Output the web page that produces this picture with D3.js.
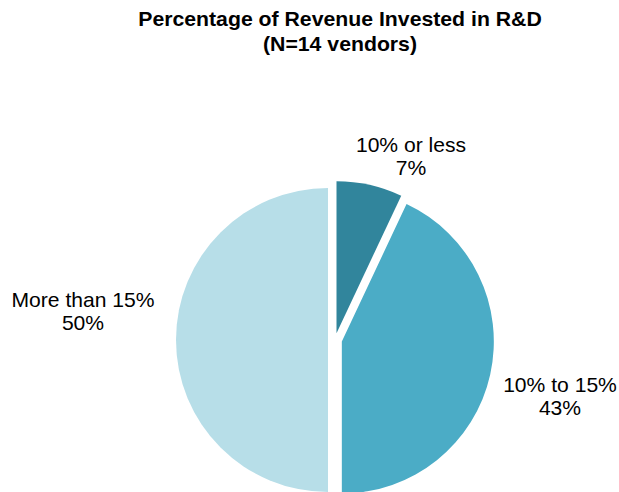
<!DOCTYPE html>
<html>
<head>
<meta charset="utf-8">
<script src="https://cdn.jsdelivr.net/npm/d3@7"></script>
<style>
  html, body { margin: 0; padding: 0; background: #ffffff; }
  svg { display: block; }
</style>
</head>
<body>
<div id="chart"></div>
<script>
// ---- data ----
const categories = ["10% or less", "10% to 15%", "More than 15%"];
const values = [7, 43, 50];
const valueLabels = ["7%", "43%", "50%"];
const titleLines = ["Percentage of Revenue Invested in R&D", "(N=14 vendors)"];

// ---- layout / style ----
const W = 619, H = 492;
const colors = ["#31859C", "#4BACC6", "#B7DEE8"];
const cx = 335, cy = 340, radius = 152, explode = 7;
// label anchor positions (center x, first baseline y)
const labelPos = [
  { x: 411, y: 152 },
  { x: 560, y: 392 },
  { x: 83, y: 307 }
];
const lineGap = 23;
const font = "Liberation Sans, Arial, sans-serif";

const svg = d3.select("#chart").append("svg")
  .attr("width", W).attr("height", H);

svg.append("g")
  .selectAll("text")
  .data(titleLines)
  .join("text")
  .attr("transform", (d, i) => `translate(340,${26 + i * 25}) scale(1.09,1)`)
  .attr("text-anchor", "middle")
  .attr("font-family", font)
  .attr("font-weight", "bold")
  .attr("font-size", 19.5)
  .attr("fill", "#000")
  .text(d => d);

const pie = d3.pie().sort(null).value(d => d.v);
const arcs = pie(values.map((v, i) => ({ v, i })));
const arc = d3.arc().innerRadius(0).outerRadius(radius);

const g = svg.append("g").attr("transform", `translate(${cx},${cy})`);
g.selectAll("path")
  .data(arcs)
  .join("path")
  .attr("d", arc)
  .attr("fill", d => colors[d.data.i])
  .attr("transform", d => {
    const a = (d.startAngle + d.endAngle) / 2;
    return `translate(${explode * Math.sin(a)},${-explode * Math.cos(a)})`;
  });

const lg = svg.append("g")
  .attr("font-family", font)
  .attr("font-size", 20)
  .attr("fill", "#000")
  .attr("text-anchor", "middle");
categories.forEach((c, i) => {
  const t = lg.append("text")
    .attr("transform", `translate(${labelPos[i].x},${labelPos[i].y}) scale(1.055,1)`);
  t.append("tspan").attr("x", 0).text(c);
  t.append("tspan").attr("x", 0).attr("dy", lineGap).text(valueLabels[i]);
});
</script>
</body>
</html>
